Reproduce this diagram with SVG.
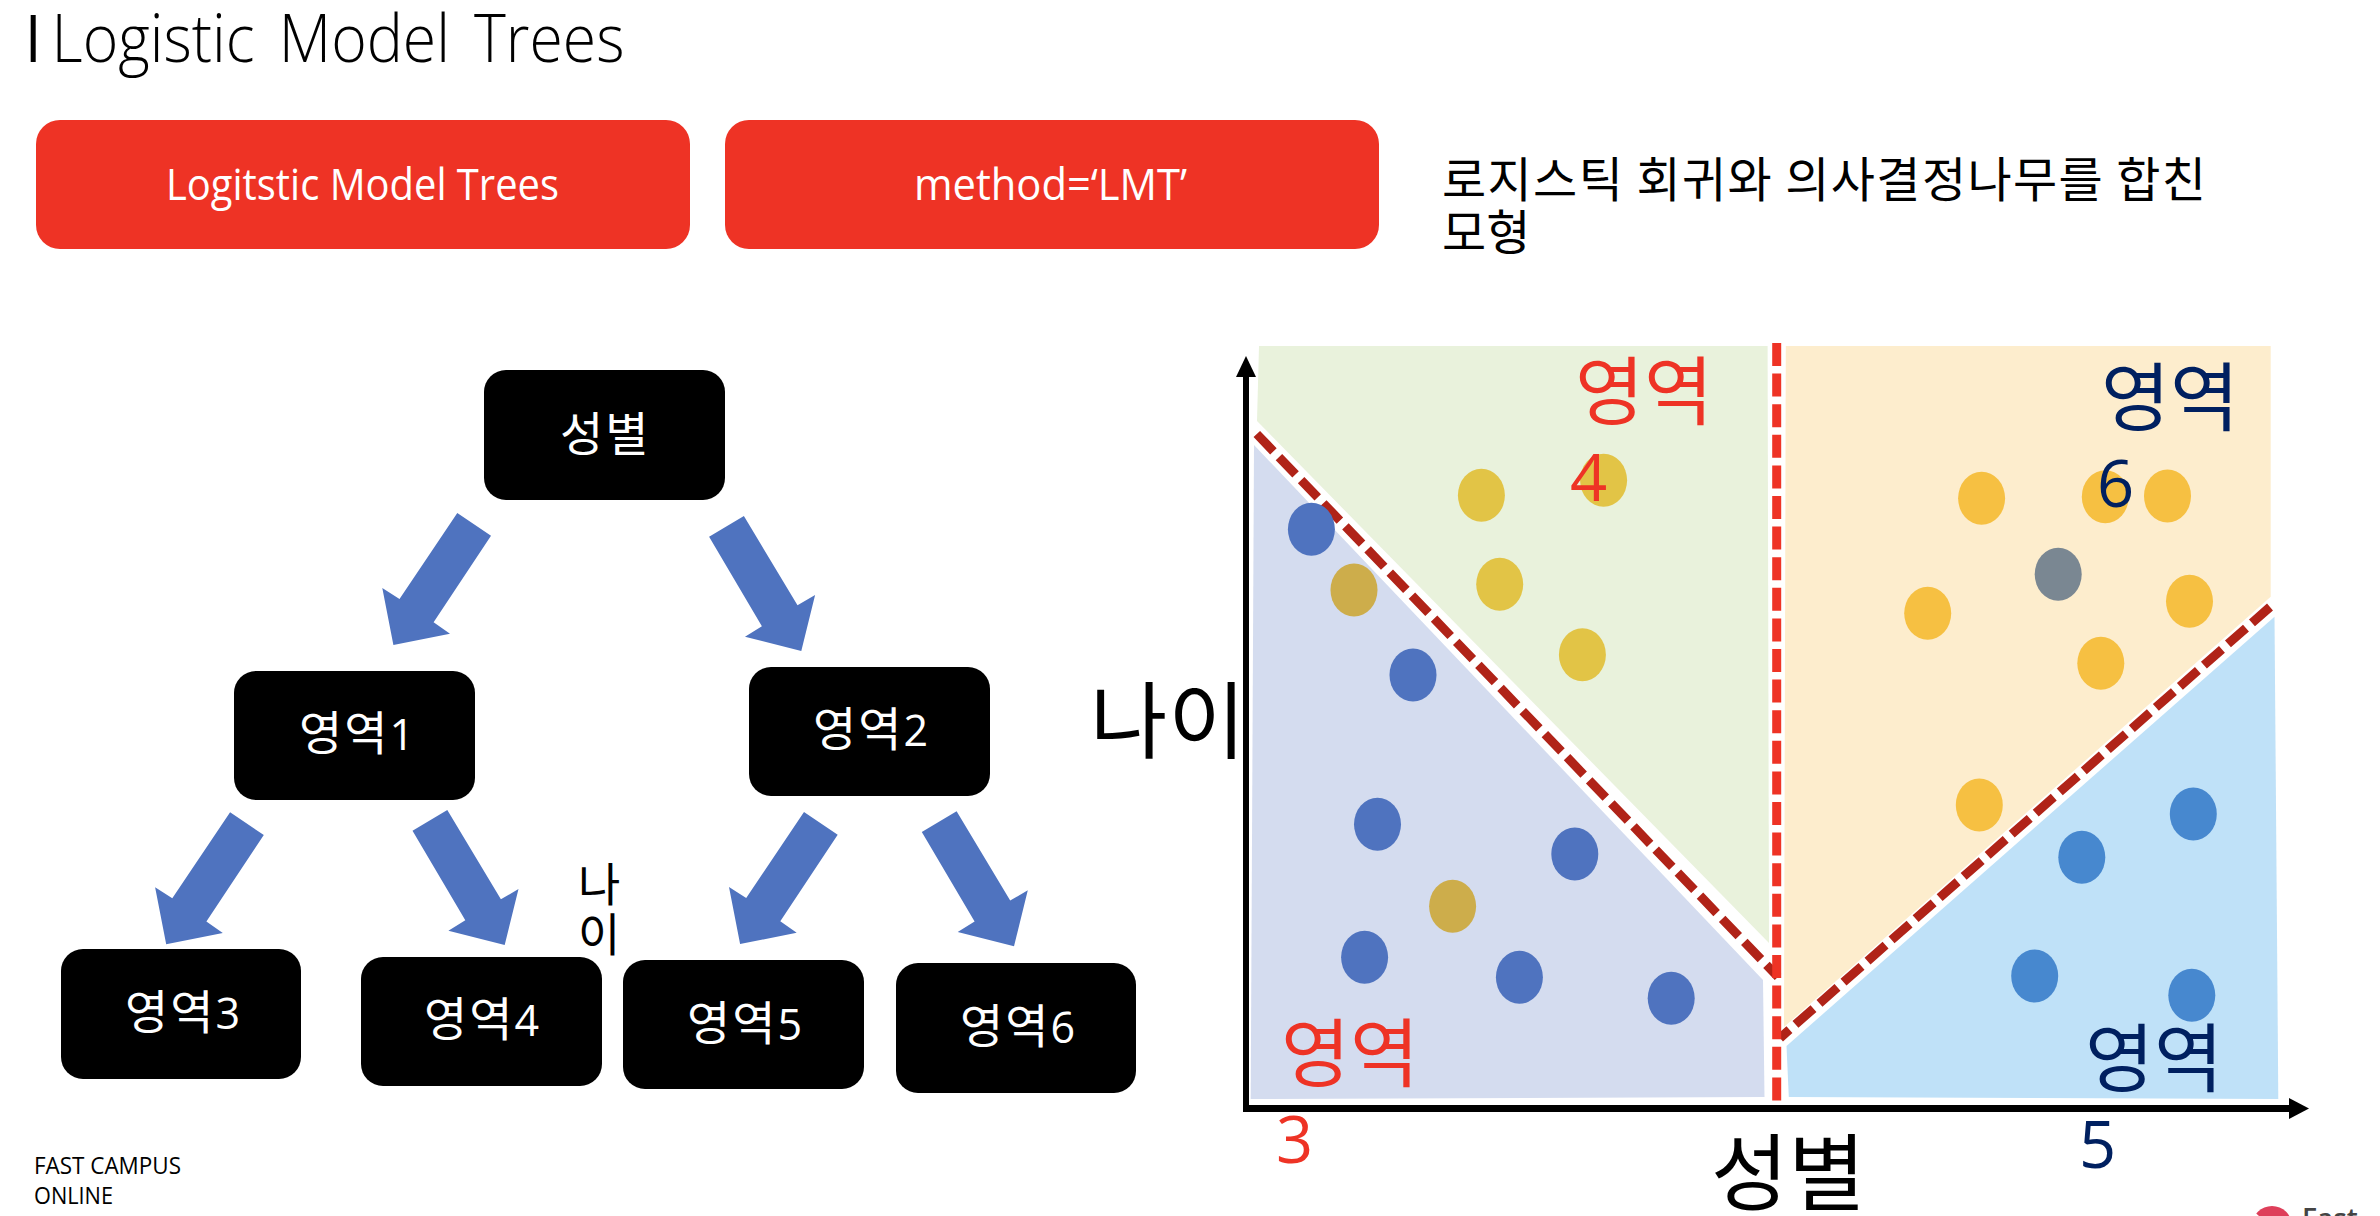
<svg xmlns="http://www.w3.org/2000/svg" width="2380" height="1216" viewBox="0 0 2380 1216">
<style>
text{font-family:"Open Sans","Noto Sans CJK KR",sans-serif}
.ko{font-family:"Noto Sans CJK KR","Noto Sans",sans-serif}
.node rect{fill:#000}
.nt{fill:#fff;font-size:47px;letter-spacing:2px}
.nd{font-family:"Open Sans",sans-serif;font-size:43px}
.btn{fill:#EE3325}
.bt{fill:#fff;font-size:44px}
.arrow{fill:#4F73BF}
.bl{fill:#4F73BF}.gr{fill:#E2C446}.br{fill:#CDAD4B}.ye{fill:#F6C042}.lb{fill:#4788CF}.gy{fill:#7A8792}
.rl{fill:#EE3325}.nv{fill:#002060}
.big{font-size:75px}
.dig{font-size:65px;font-family:"Open Sans",sans-serif}
.dash{fill:none;stroke:#B02318;stroke-width:9;stroke-dasharray:24 8}
</style>
<defs>
<polygon id="arL" points="457.3,513 491,535.7 433.6,622.3 450,633.7 393.4,645 382.3,588 399.5,599"/>
<polygon id="arR" points="743.9,516 709.1,536.7 761.9,626.3 745,636.7 801.3,651 815.1,595 797.5,605.3"/>
</defs>

<text transform="translate(0,62) scale(0.92,1)" font-size="66" font-weight="300" word-spacing="9"><tspan x="27" font-weight="400">I</tspan> <tspan x="56">Logistic Model Trees</tspan></text>

<g id="btn-model"><rect class="btn" x="36" y="120" width="654" height="129" rx="24"/><text class="bt" x="166" y="200" textLength="393" lengthAdjust="spacingAndGlyphs">Logitstic Model Trees</text></g>
<g id="btn-method"><rect class="btn" x="725" y="120" width="654" height="129" rx="24"/><text class="bt" x="914" y="200" textLength="273" lengthAdjust="spacingAndGlyphs">method=‘LMT’</text></g>

<text class="ko" font-size="48" x="1442" y="197" textLength="764">로지스틱 회귀와 의사결정나무를 합친</text>
<text class="ko" font-size="48" x="1442" y="250">모형</text>

<g id="connectors">
<use href="#arL" class="arrow"/>
<use href="#arR" class="arrow"/>
<use href="#arL" class="arrow" x="-227.2" y="299.3"/>
<use href="#arR" class="arrow" x="-296.6" y="294"/>
<use href="#arL" class="arrow" x="346.7" y="299"/>
<use href="#arR" class="arrow" x="212.7" y="295.3"/>
</g>

<g id="root" class="node"><rect x="484" y="370" width="241" height="130" rx="22"/><text class="nt ko" x="560" y="451">성별</text></g>
<g id="area1" class="node"><rect x="234" y="671" width="241" height="129" rx="22"/><text class="nt ko" x="299" y="750">영역<tspan class="nd">1</tspan></text></g>
<g id="area2" class="node"><rect x="749" y="667" width="241" height="129" rx="22"/><text class="nt ko" x="813" y="746">영역<tspan class="nd">2</tspan></text></g>
<g id="area3" class="node"><rect x="61" y="949" width="240" height="130" rx="22"/><text class="nt ko" x="125" y="1029">영역<tspan class="nd">3</tspan></text></g>
<g id="area4" class="node"><rect x="361" y="957" width="241" height="129" rx="22"/><text class="nt ko" x="424" y="1036">영역<tspan class="nd">4</tspan></text></g>
<g id="area5" class="node"><rect x="623" y="960" width="241" height="129" rx="22"/><text class="nt ko" x="687" y="1040">영역<tspan class="nd">5</tspan></text></g>
<g id="area6" class="node"><rect x="896" y="963" width="240" height="130" rx="22"/><text class="nt ko" x="960" y="1043">영역<tspan class="nd">6</tspan></text></g>

<text class="ko" font-size="46" x="578" y="901">나</text>
<text class="ko" font-size="46" x="578" y="951">이</text>

<g id="chart">
<polygon fill="#E9F2DC" points="1259,346 1767.6,346 1769,943 1257,421"/>
<polygon fill="#D4DCEF" points="1254,445 1763,980 1764.5,1097 1250.7,1099"/>
<polygon fill="#FDEDCD" points="1785.8,346 2270.7,346 2270.7,596.7 1784,1027"/>
<polygon fill="#BFE1F8" points="2274.5,616.7 2278.3,1099 1788.8,1097 1786.5,1046"/>
<line x1="1246" y1="1111" x2="1246" y2="372" stroke="#000" stroke-width="6"/>
<polygon points="1246,356 1256,377 1236,377"/>
<line x1="1243" y1="1108.5" x2="2291" y2="1108.5" stroke="#000" stroke-width="7"/>
<polygon points="2309,1108.5 2289,1098 2289,1119"/>
<line class="dash" x1="1256.8" y1="434" x2="1778" y2="977"/>
<line class="dash" x1="2270" y1="607" x2="1780" y2="1038"/>
<line x1="1776.7" y1="343" x2="1776.7" y2="1102" fill="none" stroke="#EE3325" stroke-width="9" stroke-dasharray="23 7.6"/>
<ellipse class="gr" cx="1481.4" cy="495.3" rx="23.5" ry="26.5"/>
<ellipse class="gr" cx="1603.6" cy="480.3" rx="23.5" ry="26.5"/>
<ellipse class="gr" cx="1499.7" cy="584.3" rx="23.5" ry="26.5"/>
<ellipse class="gr" cx="1582.4" cy="654.7" rx="23.5" ry="26.5"/>
<ellipse class="bl" cx="1311.4" cy="529.3" rx="23.5" ry="26.5"/>
<ellipse class="bl" cx="1413" cy="675" rx="23.5" ry="26.5"/>
<ellipse class="br" cx="1354" cy="590" rx="23.5" ry="26.5"/>
<ellipse class="bl" cx="1377.5" cy="824.3" rx="23.5" ry="26.5"/>
<ellipse class="bl" cx="1574.8" cy="854" rx="23.5" ry="26.5"/>
<ellipse class="bl" cx="1364.6" cy="957.3" rx="23.5" ry="26.5"/>
<ellipse class="bl" cx="1519.4" cy="977.3" rx="23.5" ry="26.5"/>
<ellipse class="bl" cx="1671.2" cy="998.3" rx="23.5" ry="26.5"/>
<ellipse class="br" cx="1452.6" cy="906.3" rx="23.5" ry="26.5"/>
<ellipse class="ye" cx="1981.6" cy="498.3" rx="23.5" ry="26.5"/>
<ellipse class="ye" cx="2105.3" cy="496.7" rx="23.5" ry="26.5"/>
<ellipse class="ye" cx="2167.5" cy="496" rx="23.5" ry="26.5"/>
<ellipse class="ye" cx="1927.7" cy="613.3" rx="23.5" ry="26.5"/>
<ellipse class="ye" cx="2189.5" cy="601.3" rx="23.5" ry="26.5"/>
<ellipse class="ye" cx="2100.8" cy="663.3" rx="23.5" ry="26.5"/>
<ellipse class="ye" cx="1979.3" cy="805" rx="23.5" ry="26.5"/>
<ellipse class="gy" cx="2058.2" cy="574.3" rx="23.5" ry="26.5"/>
<ellipse class="lb" cx="2193.3" cy="814" rx="23.5" ry="26.5"/>
<ellipse class="lb" cx="2081.8" cy="857.3" rx="23.5" ry="26.5"/>
<ellipse class="lb" cx="2034.7" cy="976" rx="23.5" ry="26.5"/>
<ellipse class="lb" cx="2191.8" cy="995.3" rx="23.5" ry="26.5"/>
<text class="ko big rl" x="1575" y="419">영역</text>
<text class="dig rl" x="1570" y="501">4</text>
<text class="ko big nv" x="2101" y="425">영역</text>
<text class="dig nv" x="2097" y="507">6</text>
<text class="ko big rl" x="1281" y="1081">영역</text>
<text class="dig rl" x="1276" y="1163">3</text>
<text class="ko big nv" x="2085" y="1086">영역</text>
<text class="dig nv" x="2079" y="1168">5</text>
<text class="ko" font-size="84" x="1711" y="1204">성별</text>
<text class="ko" font-size="84" letter-spacing="1" x="1090" y="752">나이</text>
</g>

<text font-size="24" x="34" y="1174" textLength="147" lengthAdjust="spacingAndGlyphs">FAST CAMPUS</text>
<text font-size="24" x="34" y="1204" textLength="79" lengthAdjust="spacingAndGlyphs">ONLINE</text>

<g id="logo">
<circle cx="2272" cy="1226" r="20" fill="#DE3F5A"/>
<line x1="2252" y1="1212" x2="2285" y2="1240" stroke="#fff" stroke-width="3"/>
<text x="2302" y="1229" font-size="28" font-weight="600" fill="#444">Fast</text>
</g>
</svg>
